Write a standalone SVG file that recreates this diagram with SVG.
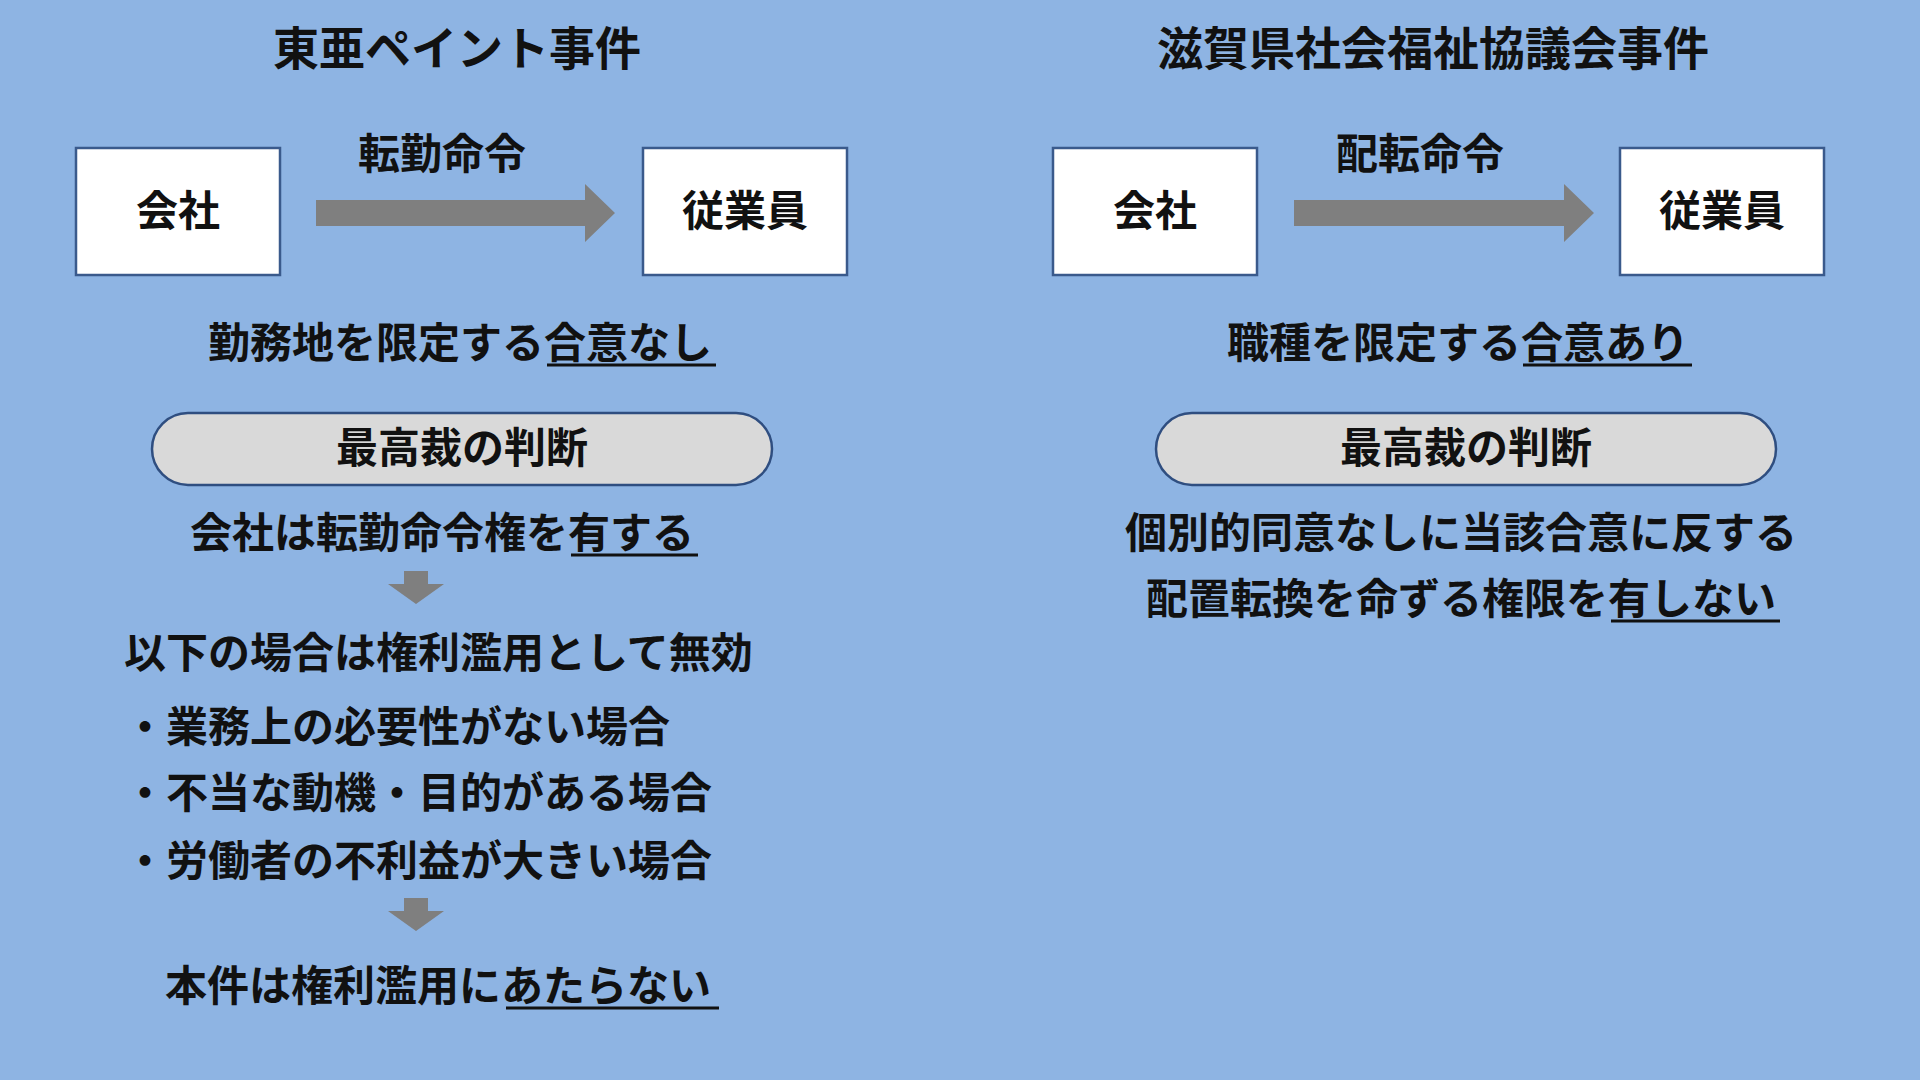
<svg xmlns="http://www.w3.org/2000/svg" width="1920" height="1080" viewBox="0 0 1920 1080">
<style>
text{font-family:"Noto Sans CJK JP","Noto Sans",sans-serif;font-weight:bold;fill:#111;font-size:42px}
.c{text-anchor:middle}
.t{font-size:46px}
.box{fill:#fff;stroke:#3A5A8C;stroke-width:2.5}
.pill{fill:#D9D9D9;stroke:#2F4E80;stroke-width:2.5}
.ul{stroke:#111;stroke-width:3}
.ar{fill:#7F7F7F}
</style>
<rect width="1920" height="1080" fill="#8EB4E3"/>
<text class="c t" x="457" y="65">東亜ペイント事件</text>
<text class="c t" x="1433" y="65">滋賀県社会福祉協議会事件</text>
<g id="left-company"><rect class="box" x="76" y="148" width="204" height="127"/><text class="c" x="178" y="226">会社</text></g>
<g id="left-employee"><rect class="box" x="643" y="148" width="204" height="127"/><text class="c" x="745" y="226">従業員</text></g>
<g id="right-company"><rect class="box" x="1053" y="148" width="204" height="127"/><text class="c" x="1155" y="226">会社</text></g>
<g id="right-employee"><rect class="box" x="1620" y="148" width="204" height="127"/><text class="c" x="1722" y="226">従業員</text></g>
<g id="connectors">
<polygon class="ar" points="316,200 585,200 585,184 615,213 585,242 585,226 316,226"/>
<polygon class="ar" points="1294,200 1564,200 1564,184 1594,213 1564,242 1564,226 1294,226"/>
<polygon class="ar" points="404,571 428,571 428,584 444,584 416,604 388,584 404,584"/>
<polygon class="ar" points="404,898 428,898 428,911 444,911 416,931 388,911 404,911"/>
</g>
<text class="c" x="442" y="169">転勤命令</text>
<text class="c" x="1420" y="169">配転命令</text>
<text class="c" x="460" y="358">勤務地を限定する合意なし</text>
<line class="ul" x1="547" y1="365" x2="716" y2="365"/>
<text class="c" x="1458" y="358">職種を限定する合意あり</text>
<line class="ul" x1="1523" y1="365" x2="1692" y2="365"/>
<g id="left-pill"><rect class="pill" x="152" y="413" width="620" height="72" rx="36"/><text class="c" x="462" y="463">最高裁の判断</text></g>
<g id="right-pill"><rect class="pill" x="1156" y="413" width="620" height="72" rx="36"/><text class="c" x="1466" y="463">最高裁の判断</text></g>
<text class="c" x="442" y="548">会社は転勤命令権を有する</text>
<line class="ul" x1="571" y1="555" x2="698" y2="555"/>
<text x="124" y="668">以下の場合は権利濫用として無効</text>
<text x="124" y="742">・業務上の必要性がない場合</text>
<text x="124" y="808">・不当な動機・目的がある場合</text>
<text x="124" y="876">・労働者の不利益が大きい場合</text>
<text x="165" y="1001">本件は権利濫用にあたらない</text>
<line class="ul" x1="506" y1="1008" x2="719" y2="1008"/>
<text class="c" x="1461" y="548">個別的同意なしに当該合意に反する</text>
<text class="c" x="1461" y="614">配置転換を命ずる権限を有しない</text>
<line class="ul" x1="1611" y1="621" x2="1780" y2="621"/>
</svg>
